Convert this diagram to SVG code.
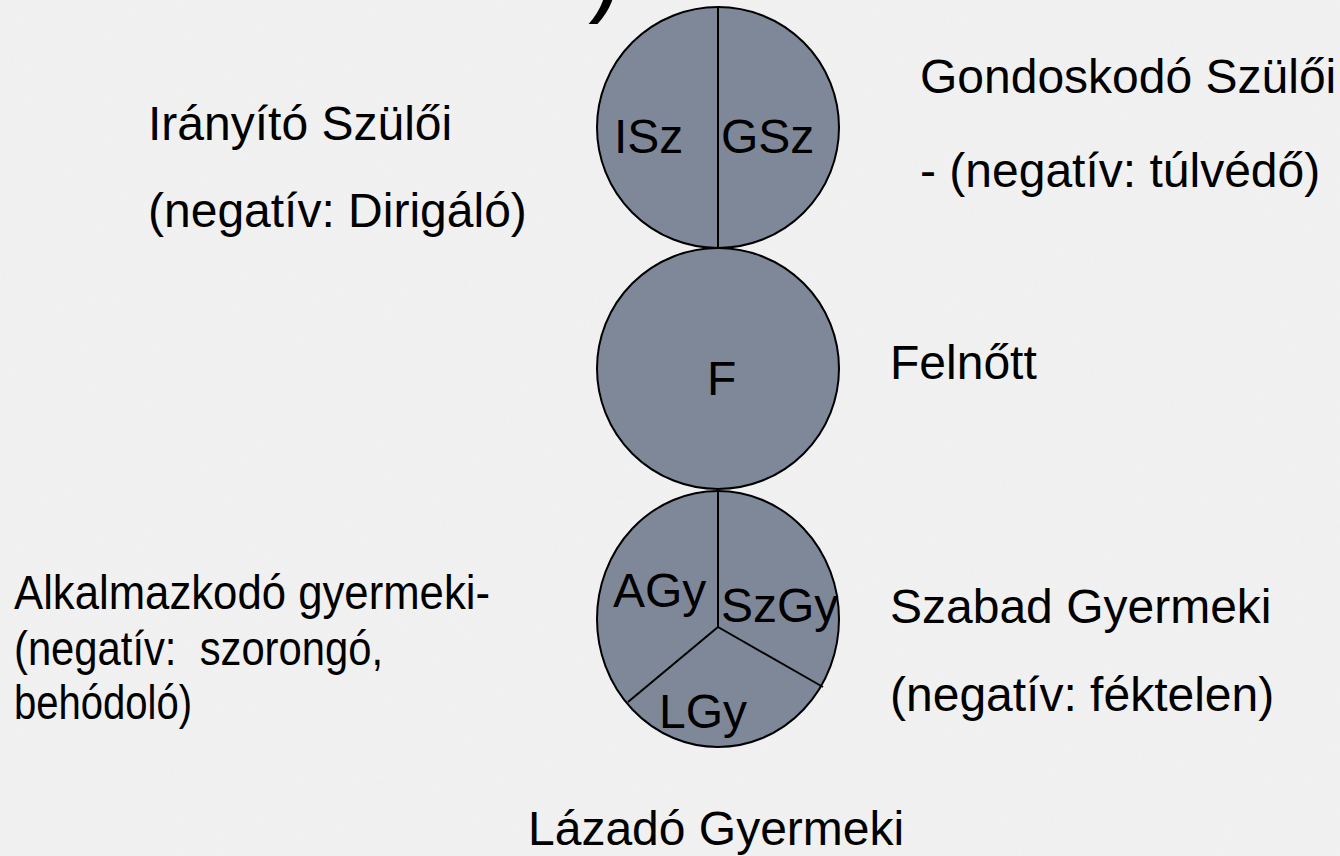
<svg xmlns="http://www.w3.org/2000/svg" width="1340" height="856" viewBox="0 0 1340 856">
  <style>
    .bg { fill: #f1f1f1; }
    .ego { fill: #7f8898; stroke: #000; stroke-width: 2; }
    .div { stroke: #000; stroke-width: 2; fill: none; }
    .t { font-family: "Liberation Sans", Arial, sans-serif; font-size: 48px; fill: #000; }
  </style>
  <defs>
    <filter id="grain" x="0" y="0" width="100%" height="100%">
      <feTurbulence type="fractalNoise" baseFrequency="0.9" numOctaves="2" seed="3" result="n"/>
      <feColorMatrix in="n" type="matrix" values="0 0 0 0 0.55  0 0 0 0 0.55  0 0 0 0 0.55  0 0 0 -1.6 0.9"/>
      <feComponentTransfer><feFuncA type="linear" slope="0.12"/></feComponentTransfer>
    </filter>
  </defs>
  <rect class="bg" x="0" y="0" width="1340" height="856"/>
  <rect x="0" y="0" width="1340" height="856" filter="url(#grain)"/>
  <text id="title-fragment" class="t" x="588" y="2" style="font-size:104px">)</text>

  <g id="node-parent">
    <ellipse class="ego" cx="718" cy="127.5" rx="121" ry="120.5"/>
    <line class="div" x1="718" y1="7" x2="718" y2="248"/>
    <text class="t" x="614" y="153">ISz</text>
    <text class="t" x="721" y="153">GSz</text>
  </g>

  <g id="node-adult">
    <ellipse class="ego" cx="718" cy="368.5" rx="121" ry="120.5"/>
    <text class="t" x="707" y="395">F</text>
  </g>

  <g id="node-child">
    <ellipse class="ego" cx="718" cy="619" rx="121" ry="128"/>
    <path class="div" d="M718 491 L718 627 M718 627 L628 702 M718 627 L823 687"/>
    <text class="t" x="613" y="607">AGy</text>
    <text class="t" x="721" y="622">SzGy</text>
    <text class="t" x="659" y="728">LGy</text>
  </g>

  <g id="label-controlling-parent">
    <text class="t" x="148" y="140">Irányító Szülői</text>
    <text class="t" x="148" y="227">(negatív: Dirigáló)</text>
  </g>

  <g id="label-nurturing-parent">
    <text class="t" x="920" y="93">Gondoskodó Szülői</text>
    <text class="t" x="920" y="187">- (negatív: túlvédő)</text>
  </g>

  <g id="label-adult">
    <text class="t" x="890" y="379">Felnőtt</text>
  </g>

  <g id="label-adapted-child">
    <text class="t" x="14" y="609" textLength="476" lengthAdjust="spacingAndGlyphs">Alkalmazkodó gyermeki-</text>
    <text class="t" x="14" y="665" textLength="369" lengthAdjust="spacingAndGlyphs">(negatív:&#160; szorongó,</text>
    <text class="t" x="14" y="719" textLength="178" lengthAdjust="spacingAndGlyphs">behódoló)</text>
  </g>

  <g id="label-free-child">
    <text class="t" x="890" y="623">Szabad Gyermeki</text>
    <text class="t" x="890" y="711">(negatív: féktelen)</text>
  </g>

  <g id="label-rebel-child">
    <text class="t" x="528" y="845">Lázadó Gyermeki</text>
  </g>

  <g id="connectors"></g>
</svg>
